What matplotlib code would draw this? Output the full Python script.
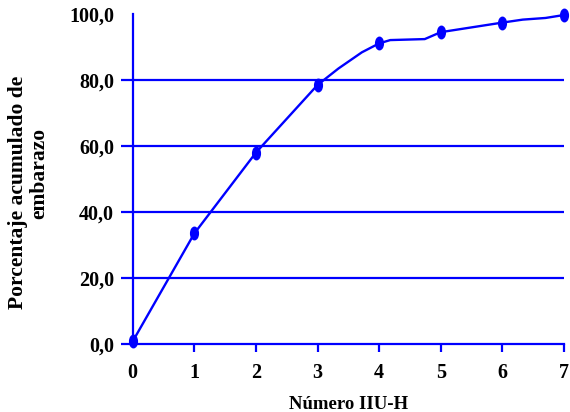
import matplotlib
matplotlib.use('Agg')
from matplotlib import pyplot as plt
from matplotlib.path import Path
from matplotlib.transforms import Affine2D

# marker points (one per whole number of IIU-H)
x_marks = [0, 1, 2, 3, 4, 5, 6, 7]
y_marks = [0.8, 33.5, 58.0, 78.5, 91.1, 94.5, 97.4, 99.7]

# the line also passes through some in-between points
x_line = [0, 1, 2, 3, 3.34, 3.72, 4, 4.18, 4.74, 5, 6, 6.33, 6.7, 7]
y_line = [0.8, 33.5, 58.0, 78.5, 83.5, 88.4, 91.1, 92.1, 92.4, 94.5,
          97.4, 98.3, 98.8, 99.7]

y_ticks = [0, 20, 40, 60, 80, 100]
y_tick_labels = ['0,0', '20,0', '40,0', '60,0', '80,0', '100,0']
x_ticks = [0, 1, 2, 3, 4, 5, 6, 7]

BLUE = '#0000FF'
plt.rcParams['font.family'] = ['Liberation Serif', 'DejaVu Serif']
plt.rcParams['font.weight'] = 'bold'

fig = plt.figure(figsize=(5.7, 4.12), dpi=100)
ax = fig.add_axes([0.2328, 0.165, 0.7567, 0.801])

# tall ellipse marker
oval = Path.unit_circle().transformed(Affine2D().scale(0.62, 1.0))

for y in y_ticks[1:-1]:
    ax.axhline(y, color=BLUE, lw=1.6, zorder=1)

ax.plot(x_line, y_line, color=BLUE, lw=1.7, zorder=3, clip_on=False)
ax.plot(x_marks, y_marks, linestyle='none', marker=oval, markersize=9,
        color=BLUE, zorder=4, clip_on=False)

ax.set_xlim(0, 7)
ax.set_ylim(0, 100)
ax.set_xticks(x_ticks)
ax.set_yticks(y_ticks)
ax.set_yticklabels(y_tick_labels)

for side in ['top', 'right']:
    ax.spines[side].set_visible(False)
for side in ['left', 'bottom']:
    ax.spines[side].set_color(BLUE)
    ax.spines[side].set_linewidth(1.6)

ax.tick_params(axis='y', direction='out', length=8.5, width=1.6,
               color=BLUE, pad=5, labelsize=14.5)
ax.tick_params(axis='x', direction='out', length=5.8, width=1.6,
               color=BLUE, pad=8, labelsize=14.5)
ax.yaxis.get_major_ticks()[-1].tick1line.set_visible(False)
ax.xaxis.get_major_ticks()[0].tick1line.set_visible(False)

fig.text(0.612, 0.0194, 'Número IIU-H', ha='center', va='center',
         fontsize=13.5, fontweight='bold')
fig.text(0.032, 0.532, 'Porcentaje acumulado de', rotation=90,
         ha='center', va='center', fontsize=15.5, fontweight='bold')
fig.text(0.068, 0.578, 'embarazo', rotation=90,
         ha='center', va='center', fontsize=15.5, fontweight='bold')

fig.savefig('out.png', dpi=100)
